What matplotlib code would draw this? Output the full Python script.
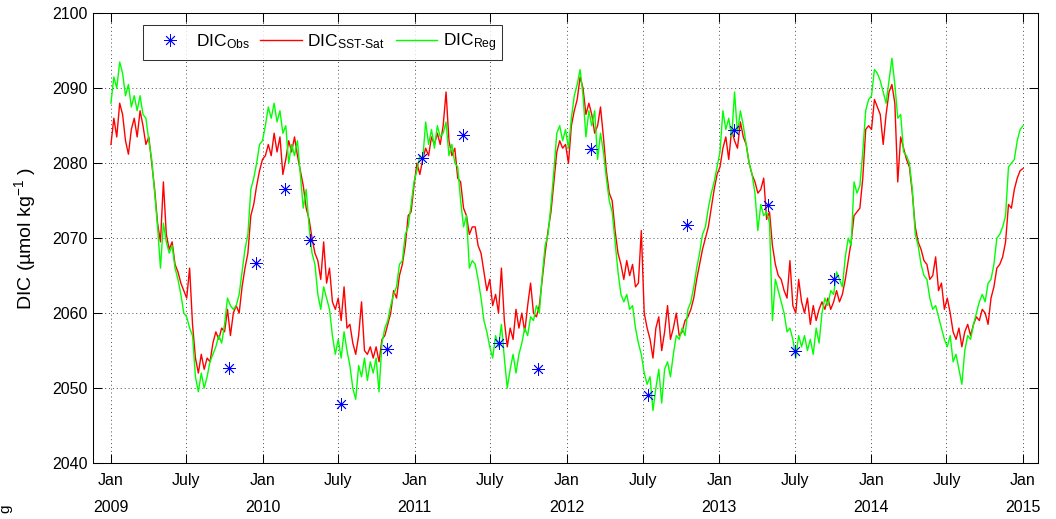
import numpy as np
import matplotlib
matplotlib.use('Agg')
import matplotlib.pyplot as plt

plt.rcParams['font.family'] = ['Liberation Sans', 'DejaVu Sans']
plt.rcParams['mathtext.fontset'] = 'custom'
plt.rcParams['mathtext.rm'] = 'Liberation Sans'
plt.rcParams['mathtext.it'] = 'Liberation Sans:italic'
plt.rcParams['mathtext.bf'] = 'Liberation Sans:bold'

# weekly DIC estimates (umol/kg), one list per year, starting 2009-01-01
reg_2009 = [2088, 2091.5, 2090, 2093.5, 2092, 2089, 2090.5, 2087.5, 2089, 2087,
            2089, 2086.5, 2086, 2083, 2080.5, 2076, 2071.5, 2066, 2072, 2069.5,
            2068, 2069, 2066, 2064.5, 2062.5, 2060, 2059.5, 2058, 2057, 2051.5,
            2049.5, 2052, 2050, 2051.5, 2053.5, 2054.5, 2055.5, 2057, 2056, 2058.5,
            2062, 2061, 2060.5, 2061, 2062.5, 2065.5, 2068.5, 2070.5, 2076.5, 2078,
            2080, 2082.5, 2083]
reg_2010 = [2085, 2087.5, 2086, 2088, 2085.5, 2087, 2084, 2085, 2080, 2082.5,
            2081, 2083, 2078.5, 2074, 2076.5, 2071.5, 2068, 2066.5, 2062.5, 2060.5,
            2063.5, 2062, 2060.5, 2057, 2054.5, 2056.5, 2054, 2057.5, 2055, 2053,
            2050, 2048.5, 2053, 2051.5, 2054, 2051, 2053.5, 2052, 2054, 2049.5,
            2056, 2058, 2059, 2061, 2062.5, 2063.5, 2066.5, 2067, 2070.5, 2071.5,
            2074.5, 2077.5]
reg_2011 = [2079, 2081, 2080.5, 2085.5, 2082.5, 2084.5, 2082, 2085, 2083.5, 2084,
            2085.5, 2081, 2082.5, 2080, 2079.5, 2075, 2071.5, 2073, 2066, 2067,
            2066.5, 2064.5, 2062, 2059, 2057.5, 2055.5, 2054, 2057, 2055.5, 2058.5,
            2054, 2050, 2052.5, 2054.5, 2052, 2054.5, 2056, 2058, 2057, 2059.5,
            2059, 2061, 2060, 2065, 2069, 2070.5, 2074.5, 2079, 2084, 2085,
            2083, 2084.5]
reg_2012 = [2082, 2086, 2089, 2090.5, 2092.5, 2089, 2083.5, 2087, 2085, 2087,
            2080.5, 2084, 2081.5, 2078, 2075, 2073.5, 2069.5, 2065.5, 2062.5, 2061.5,
            2062.5, 2060.5, 2061, 2058, 2056, 2054.5, 2052, 2050.5, 2051.5, 2047,
            2050, 2052.5, 2048, 2052.5, 2053.5, 2051.5, 2054.5, 2057, 2056.5, 2058,
            2057, 2060.5, 2061.5, 2063.5, 2066, 2068, 2070.5, 2071.5, 2074, 2076,
            2077.5, 2079.5]
reg_2013 = [2081.5, 2087, 2084.5, 2086, 2083.5, 2089.5, 2084, 2087, 2085, 2082.5,
            2080, 2078.5, 2076, 2071, 2074.5, 2073, 2073.5, 2072, 2059, 2064.5,
            2063, 2061.5, 2060, 2057.5, 2058, 2056.5, 2054, 2057, 2055.5, 2057,
            2055, 2056.5, 2054.5, 2058, 2056, 2060, 2062, 2061, 2063, 2062.5,
            2065.5, 2064.5, 2063.5, 2067.5, 2070, 2069, 2077.5, 2076, 2077, 2081.5,
            2087, 2088.5]
reg_2014 = [2089, 2092.5, 2092, 2091, 2089.5, 2088, 2091, 2094, 2090.5, 2086,
            2086.5, 2081.5, 2081, 2080, 2076.5, 2070.5, 2069, 2066.5, 2065, 2064.5,
            2062, 2060.5, 2061, 2059.5, 2058, 2056.5, 2055.5, 2057, 2053.5, 2054.5,
            2052.5, 2050.5, 2055, 2057, 2056.5, 2058.5, 2060, 2061.5, 2062.5, 2061.5,
            2064, 2064.5, 2066.5, 2070, 2070.5, 2071.5, 2073, 2079.5, 2080, 2080.5,
            2083, 2084.5, 2085]

sst_2009 = [2082.5, 2086, 2083.5, 2088, 2086.5, 2083, 2081.2, 2084.5, 2086, 2083.5,
            2087, 2085, 2082.5, 2083.5, 2080, 2076.5, 2072, 2069.5, 2077.5, 2070.5,
            2068.5, 2069.5, 2066.5, 2065.5, 2064, 2063, 2062, 2066, 2058.5, 2054,
            2052, 2054.5, 2052.5, 2054, 2053.5, 2056, 2057.5, 2056.5, 2058, 2057.5,
            2060.5, 2057, 2060, 2061, 2060, 2063.5, 2066, 2068, 2073, 2074.5,
            2077, 2079, 2080.5]
sst_2010 = [2081, 2082.5, 2081, 2084, 2081.5, 2083.5, 2078.5, 2080.5, 2083, 2081.5,
            2083.5, 2081, 2079, 2077, 2074, 2072.5, 2070, 2068, 2067, 2064.5,
            2069.5, 2064, 2066, 2061.5, 2060.5, 2062, 2059, 2063.5, 2058, 2058.5,
            2056, 2054.5, 2057, 2061.5, 2055, 2054.5, 2055.5, 2054, 2055.5, 2053.5,
            2056.5, 2057, 2058.5, 2060, 2063, 2062, 2065, 2066.5, 2069, 2073,
            2073.5, 2077]
sst_2011 = [2080, 2078.5, 2080.5, 2082, 2081, 2083.5, 2082.5, 2084, 2082.5, 2085,
            2089.5, 2083, 2081, 2082, 2078, 2077.5, 2074, 2073, 2070.5, 2071.5,
            2071.5, 2069, 2068, 2065.5, 2063, 2064.5, 2061, 2062.5, 2060, 2066,
            2059, 2055.5, 2058, 2056.5, 2060.5, 2058, 2060, 2057.5, 2061, 2064,
            2060, 2059.5, 2061, 2064.5, 2068, 2071, 2073.5, 2077.5, 2081.5, 2083,
            2082, 2082.5]
sst_2012 = [2080, 2085, 2087, 2088.5, 2091.5, 2090, 2086.5, 2088, 2086.5, 2084,
            2085, 2087.5, 2083.5, 2079, 2076, 2075, 2071, 2068, 2066.5, 2064.5,
            2067, 2065, 2066.5, 2063.5, 2064, 2071, 2060, 2058, 2056.5, 2054,
            2058, 2059.5, 2055, 2057.5, 2061, 2056.5, 2058, 2060, 2057, 2057.5,
            2059, 2059.5, 2060.5, 2062, 2064.5, 2066.5, 2068.5, 2070, 2071.5, 2074,
            2076.5, 2078.5]
sst_2013 = [2079.5, 2082, 2083.5, 2080.5, 2084.5, 2083, 2082, 2085.5, 2083.5, 2082.5,
            2080, 2078.5, 2077.5, 2076, 2076.5, 2078, 2072.5, 2073.5, 2069, 2066.5,
            2065, 2064.5, 2063, 2062, 2067, 2061, 2060, 2064.5, 2061.5, 2060,
            2062, 2058.5, 2061, 2059, 2060.5, 2061.5, 2060.5, 2062, 2060.5, 2061.5,
            2063, 2061.5, 2062.5, 2064.5, 2067, 2069.5, 2073, 2073.5, 2074, 2078,
            2084.5, 2085]
sst_2014 = [2084.5, 2088.5, 2087.5, 2086.5, 2082.5, 2086.5, 2089.5, 2090.5, 2088, 2077.5,
            2083.5, 2082, 2080.5, 2079.5, 2076, 2071.5, 2069.5, 2068.5, 2067, 2066.5,
            2064.5, 2065, 2067.5, 2063, 2064, 2060.5, 2062, 2060, 2057.5, 2056.5,
            2058, 2055.5, 2057.5, 2058.5, 2057, 2058.5, 2059.5, 2059, 2060.5, 2060,
            2058.5, 2062, 2063.5, 2066, 2066.5, 2067.5, 2069.5, 2074.5, 2074, 2076.5,
            2078, 2079, 2079.3]

obs_dates = ['2009-10-12', '2009-12-15', '2010-02-22', '2010-04-23', '2010-07-07',
             '2010-10-27', '2011-01-18', '2011-04-26', '2011-07-23', '2011-10-23',
             '2012-02-28', '2012-07-15', '2012-10-15', '2013-02-05', '2013-04-28',
             '2013-07-03', '2013-10-05']
obs_dic = [2052.7, 2066.7, 2076.5, 2069.7, 2047.9, 2055.2, 2080.7, 2083.8, 2056.0,
           2052.5, 2081.9, 2049.1, 2071.8, 2084.4, 2074.4, 2055.0, 2064.5]

reg = np.array(reg_2009 + reg_2010 + reg_2011 + reg_2012 + reg_2013 + reg_2014)
sst = np.array(sst_2009 + sst_2010 + sst_2011 + sst_2012 + sst_2013 + sst_2014)
t = np.datetime64('2009-01-01') + np.arange(len(reg)) * np.timedelta64(7, 'D')
t_obs = np.array(obs_dates, dtype='datetime64[D]')

fig = plt.figure(figsize=(10.56, 5.19), dpi=100)
ax = fig.add_axes([0.0881, 0.1079, 0.8949, 0.8665])

ax.plot(t_obs, obs_dic, linestyle='none', marker=(8, 2, 0), ms=9, mew=0.6,
        color='b', label=r'DIC$_{\mathregular{Obs}}$', zorder=4)
ax.plot(t, sst, color='r', lw=1.0, label=r'DIC$_{\text{SST-Sat}}$', zorder=2)
ax.plot(t, reg, color=(0, 1, 0), lw=1.0, label=r'DIC$_{\mathregular{Reg}}$', zorder=3)

ax.set_xlim(np.datetime64('2008-11-19'), np.datetime64('2015-02-06'))
ax.set_ylim(2040, 2100)
ax.set_yticks(np.arange(2040, 2101, 10))

jan = np.array(['%d-01-01' % y for y in range(2009, 2016)], dtype='datetime64[D]')
jul = np.array(['%d-07-01' % y for y in range(2009, 2015)], dtype='datetime64[D]')
xt = np.sort(np.concatenate([jan, jul]))
ax.set_xticks(xt)
ax.set_xticklabels(['Jan' if str(d)[5:7] == '01' else 'July' for d in xt])
for d in jan:
    ax.text(d, -0.098, str(d)[:4], transform=ax.get_xaxis_transform(),
            ha='center', va='center', fontsize=11.5)

ax.tick_params(direction='in', length=6.5, width=0.75, labelsize=11.5,
               top=True, right=True)
ax.tick_params(axis='x', pad=7)
ax.tick_params(axis='y', pad=4)
ax.grid(True, color='0.3', linestyle=(0, (1, 3)), linewidth=0.7)
for s in ax.spines.values():
    s.set_linewidth(0.75)

ax.set_ylabel('DIC (µmol kg$^{-1}$ )', fontsize=14, labelpad=10)

leg = ax.legend(loc='upper left', bbox_to_anchor=(0.053, 0.973), borderaxespad=0,
                ncol=3, fontsize=12.5, frameon=True, fancybox=False,
                edgecolor='k', handlelength=2.4, handletextpad=0.3,
                columnspacing=0.6, borderpad=0.35)
leg.get_frame().set_linewidth(0.75)

fig.text(0.005, 0.02, 'g', rotation=90, fontsize=11, ha='center', va='center')

fig.savefig('out.png', dpi=100)
